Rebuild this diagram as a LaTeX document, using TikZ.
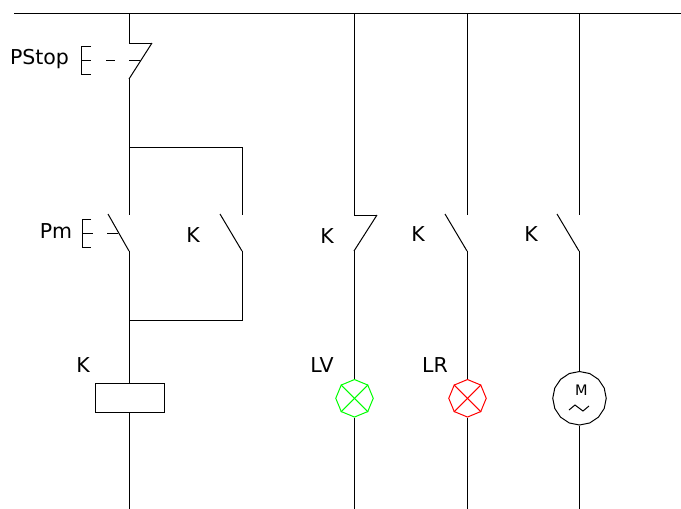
\documentclass[tikz,border=0pt]{standalone}
\usepackage{fontspec}
\setmainfont{DejaVu Sans}
\usetikzlibrary{shapes,positioning}

\begin{document}
\begin{tikzpicture}[
    x=1pt, y=-1pt,
    wire/.style={line width=1pt, line join=miter},
    thin wire/.style={line width=1pt},
    tag/.style={font=\fontsize{20.5}{24}\selectfont, inner sep=0pt},
    coil/.style={rectangle, draw, line width=1pt, minimum width=69pt, minimum height=29pt, inner sep=0pt},
    lamp/.style={regular polygon, regular polygon sides=8, shape border rotate=22.5, draw=#1, line width=1pt, minimum size=37.5pt, inner sep=0pt},
    motor/.style={regular polygon, regular polygon sides=16, shape border rotate=11.25, draw, line width=1pt, minimum size=53.5pt, inner sep=0pt}
]
    \useasboundingbox (0,0) rectangle (681,509);

    % Supply bus and rail tops
    \coordinate (busL) at (14,13);
    \coordinate (busR) at (681,13);
    \coordinate (railA) at (129,13);
    \coordinate (railB) at (354,13);
    \coordinate (railC) at (467,13);
    \coordinate (railD) at (579,13);
    \draw [wire] (busL) -- (busR);

    % Loads
    \node [coil, below=370pt of railA, xshift=0.5pt] (coilK) {};
    \node [lamp=green, below=366pt of railB, xshift=0.5pt] (lampV) {};
    \node [lamp=red, below=366pt of railC, xshift=0.5pt] (lampR) {};
    \node [motor, below=358pt of railD, xshift=0.5pt] (motorM) {};
    \node [font=\fontsize{14.5}{16}\selectfont, inner sep=0pt] (motorText) at (581.5,390) {M};
    \coordinate (waveA) at (569,410);
    \coordinate (waveB) at (575,405);
    \coordinate (waveC) at (583,411);
    \coordinate (waveD) at (589,406);
    \draw [thin wire] (waveA) -- (waveB) -- (waveC) -- (waveD);

    % Lamp crosses
    \draw [thin wire, green] (lampV.45) -- (lampV.225);
    \draw [thin wire, green] (lampV.135) -- (lampV.315);
    \draw [thin wire, red] (lampR.45) -- (lampR.225);
    \draw [thin wire, red] (lampR.135) -- (lampR.315);

    % Rail A with PStop and Pm
    \coordinate (stopTop) at (129,43);
    \coordinate (stopTip) at (152,43);
    \coordinate (stopEnd) at (129,79);
    \coordinate (branchTop) at (129,147);
    \coordinate (pmTop) at (129,215);
    \coordinate (pmTip) at (108,214);
    \coordinate (pmEnd) at (129,251);
    \coordinate (branchEnd) at (129,320);
    \coordinate (railAEnd) at (129,509);
    \draw [wire] (railA) -- (stopTop) -- (stopTip);
    \draw [thin wire] (stopTip) -- (stopEnd);
    \draw [wire] (stopEnd) -- (pmTop);
    \draw [thin wire] (pmTip) -- (pmEnd);
    \draw [wire] (pmEnd) -- (pmEnd |- coilK.north);
    \draw [wire] (pmEnd |- coilK.south) -- (railAEnd);

    % Holding contact
    \coordinate (holdTop) at (242,215);
    \coordinate (holdTip) at (220,214);
    \coordinate (holdEnd) at (242,251);
    \draw [wire] (branchTop) -| (holdTop);
    \draw [thin wire] (holdTip) -- (holdEnd);
    \draw [wire] (holdEnd) |- (branchEnd);

    % PStop actuator
    \coordinate (stopBrA) at (91,46);
    \coordinate (stopBrB) at (81,46);
    \coordinate (stopBrC) at (81,74);
    \coordinate (stopBrD) at (91,74);
    \coordinate (stopMidA) at (81,60);
    \coordinate (stopMidB) at (91,60);
    \coordinate (stopDashA) at (106,60);
    \coordinate (stopDashB) at (115,60);
    \coordinate (stopDashC) at (129,60);
    \coordinate (stopDashD) at (140,60);
    \draw [thin wire] (stopBrA) -- (stopBrB) -- (stopBrC) -- (stopBrD);
    \draw [thin wire] (stopMidA) -- (stopMidB);
    \draw [thin wire] (stopDashA) -- (stopDashB);
    \draw [thin wire] (stopDashC) -- (stopDashD);

    % Pm actuator
    \coordinate (pmBrA) at (91,219);
    \coordinate (pmBrB) at (82,219);
    \coordinate (pmBrC) at (82,247);
    \coordinate (pmBrD) at (91,247);
    \coordinate (pmMidA) at (82,233);
    \coordinate (pmMidB) at (93,233);
    \coordinate (pmDashA) at (107,233);
    \coordinate (pmDashB) at (118,233);
    \draw [thin wire] (pmBrA) -- (pmBrB) -- (pmBrC) -- (pmBrD);
    \draw [thin wire] (pmMidA) -- (pmMidB);
    \draw [thin wire] (pmDashA) -- (pmDashB);

    % Rail B
    \coordinate (kbTop) at (354,215);
    \coordinate (kbTip) at (377,215);
    \coordinate (kbEnd) at (354,251);
    \coordinate (railBEnd) at (354,509);
    \draw [wire] (railB) -- (kbTop) -- (kbTip);
    \draw [thin wire] (kbTip) -- (kbEnd);
    \draw [wire] (kbEnd) -- (kbEnd |- lampV.north);
    \draw [wire] (kbEnd |- lampV.south) -- (railBEnd);

    % Rail C
    \coordinate (kcTop) at (467,215);
    \coordinate (kcTip) at (445,214);
    \coordinate (kcEnd) at (467,251);
    \coordinate (railCEnd) at (467,509);
    \draw [wire] (railC) -- (kcTop);
    \draw [thin wire] (kcTip) -- (kcEnd);
    \draw [wire] (kcEnd) -- (kcEnd |- lampR.north);
    \draw [wire] (kcEnd |- lampR.south) -- (railCEnd);

    % Rail D
    \coordinate (kdTop) at (579,215);
    \coordinate (kdTip) at (557,214);
    \coordinate (kdEnd) at (579,251);
    \coordinate (railDEnd) at (579,509);
    \draw [wire] (railD) -- (kdTop);
    \draw [thin wire] (kdTip) -- (kdEnd);
    \draw [wire] (kdEnd) -- (kdEnd |- motorM.north);
    \draw [wire] (kdEnd |- motorM.south) -- (railDEnd);

    % Labels
    \node [tag] (stopLabel) at (39.5,59) {PStop};
    \node [tag] (pmLabel) at (56,231.5) {Pm};
    \node [tag] (holdLabel) at (193,235) {K};
    \node [tag] (kbLabel) at (327,236) {K};
    \node [tag] (kcLabel) at (418,234) {K};
    \node [tag] (kdLabel) at (531,234) {K};
    \node [tag] (coilLabel) at (83,365) {K};
    \node [tag] (lvLabel) at (322,365) {LV};
    \node [tag] (lrLabel) at (435,365) {LR};

\end{tikzpicture}
\end{document}
